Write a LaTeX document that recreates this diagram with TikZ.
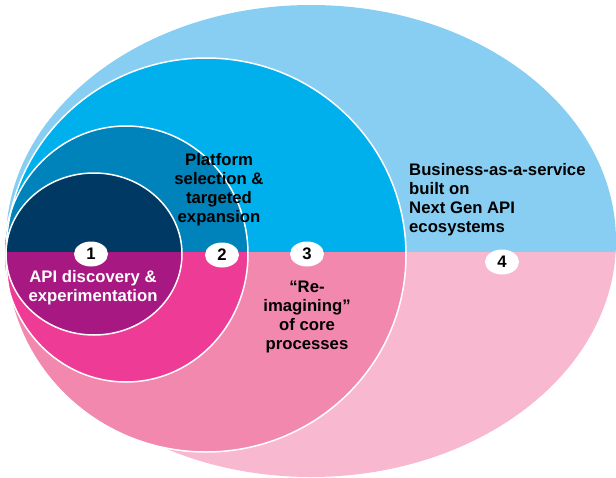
\documentclass[tikz,border=0pt]{standalone}
\usepackage{fontspec}
\setmainfont{Liberation Sans}
\usepackage{tikz}
\usetikzlibrary{shapes.geometric}

\definecolor{navy}{RGB}{0,58,100}
\definecolor{midblue}{RGB}{0,130,186}
\definecolor{skyblue}{RGB}{0,176,236}
\definecolor{paleblue}{RGB}{135,206,242}
\definecolor{plum}{RGB}{168,24,130}
\definecolor{hotpink}{RGB}{238,60,150}
\definecolor{midpink}{RGB}{242,136,174}
\definecolor{palepink}{RGB}{248,184,207}

\begin{document}
\begin{tikzpicture}[x=1pt,y=-1pt,
                    num/.style={ellipse,fill=white,minimum width=34pt,
                                minimum height=25pt,inner sep=0pt,
                                font=\fontsize{16.7}{19}\selectfont\bfseries},
                    txt/.style={align=center,inner sep=0pt,
                                font=\fontsize{16.7}{19}\selectfont\bfseries},
                    rim/.style={draw=white,line width=1.5pt}]

  \useasboundingbox (0,0) rectangle (616,477);

  \begin{scope}
    \clip (0,0) rectangle (616,252);
    \fill[paleblue] (311,241) ellipse [x radius=305pt, y radius=236pt];
    \fill[skyblue]  (206,255) ellipse [x radius=200pt, y radius=197pt];
    \fill[midblue]  (126,254) ellipse [x radius=122pt, y radius=128pt];
    \fill[navy]     (94,254)  ellipse [x radius=88pt,  y radius=81pt];
  \end{scope}
  \begin{scope}
    \clip (0,252) rectangle (616,477);
    \fill[palepink] (311,241) ellipse [x radius=305pt, y radius=236pt];
    \fill[midpink]  (206,255) ellipse [x radius=200pt, y radius=197pt];
    \fill[hotpink]  (126,254) ellipse [x radius=122pt, y radius=128pt];
    \fill[plum]     (94,254)  ellipse [x radius=88pt,  y radius=81pt];
  \end{scope}

  \draw[rim] (206,255) ellipse [x radius=200pt, y radius=197pt];
  \draw[rim] (126,254) ellipse [x radius=122pt, y radius=128pt];
  \draw[rim] (94,254)  ellipse [x radius=88pt,  y radius=81pt];

  \node[num] (one)  at (91,254)  {1};
  \node[num] (two)  at (222,255) {2};
  \node[num] (thr)  at (307,254) {3};
  \node[num] (four) at (502,262) {4};

  \node[txt,text=white] (disc) at (93,288)  {API discovery \&\\experimentation};
  \node[txt]            (plat) at (219,190) {Platform\\selection \&\\targeted\\expansion};
  \node[txt]            (reim) at (307,317) {“Re-\\imagining”\\of core\\processes};
  \node[txt,align=left,anchor=west] (biz) at (409,200)
       {Business-as-a-service\\built on\\Next Gen API\\ecosystems};
\end{tikzpicture}
\end{document}
